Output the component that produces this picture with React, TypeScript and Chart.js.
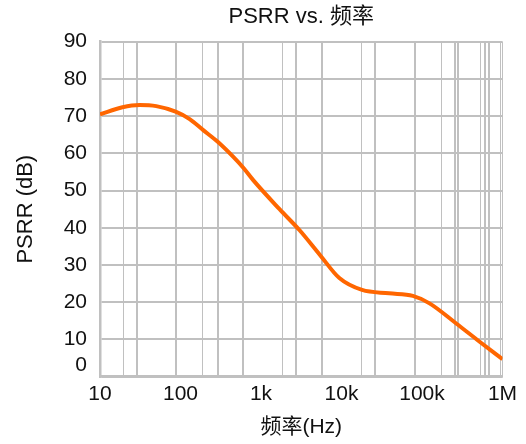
import React, { useEffect, useRef } from 'react';
import { Chart, registerables } from 'chart.js';

Chart.register(...registerables);

// Curve samples (frequency in Hz, PSRR in dB)
const freqHz = [10, 19, 31, 50, 87, 130, 190, 290, 450, 610, 800, 1700, 3000, 5400, 9400, 18000, 39000, 77000, 124000, 266000, 520000, 1000000];
const psrrDb = [70.5, 72.4, 73.0, 72.7, 71.2, 69.2, 66.3, 63.1, 59.1, 56.0, 52.8, 45.0, 39.4, 32.7, 26.5, 23.3, 22.4, 21.7, 19.7, 14.3, 9.4, 4.7];

// Axis ticks
const yTickValues = [0, 10, 20, 30, 40, 50, 60, 70, 80, 90];
const xLabelValues = [10, 100, 1000, 10000, 100000, 1000000];
const xLabelTexts = ['10', '100', '1k', '10k', '100k', '1M'];
// Vertical grid lines as drawn in the reference (Hz)
const xGridHeavy = [28.9, 86.9, 289, 592, 2702, 5689, 25960, 81600, 256600, 279600, 606000, 679600];
const xGridLight = [19.7, 188, 1862, 17890, 176800, 540000, 931000, 1000000];

const FONT = 'Arial, "Liberation Sans", "Noto Sans CJK SC", sans-serif';
const GRID = '#c0c0c0';
const TXT = '#111111';

const zeroLabelPlugin = {
  id: 'zeroLabel',
  afterDraw(chart: any) {
    const y = chart.scales.y;
    const ctx = chart.ctx;
    ctx.save();
    ctx.font = `21px ${FONT}`;
    ctx.fillStyle = TXT;
    ctx.textAlign = 'right';
    ctx.textBaseline = 'middle';
    ctx.fillText(String(yTickValues[0]), chart.chartArea.left - 13, y.getPixelForValue(yTickValues[0]) - 11.5);
    ctx.restore();
  },
};

export default function App() {
  const ref = useRef<HTMLCanvasElement | null>(null);

  useEffect(() => {
    if (!ref.current) return;
    const allX = Array.from(new Set([...xLabelValues, ...xGridHeavy, ...xGridLight])).sort((a, b) => a - b);
    const chart = new Chart(ref.current, {
      type: 'line',
      data: {
        datasets: [
          {
            label: 'PSRR',
            data: freqHz.map((f, i) => ({ x: f, y: psrrDb[i] })),
            borderColor: '#ff6600',
            borderWidth: 4,
            pointRadius: 0,
            cubicInterpolationMode: 'monotone',
            fill: false,
          },
        ],
      },
      options: {
        animation: false,
        responsive: true,
        maintainAspectRatio: false,
        layout: { padding: { left: 0, right: 23.5, top: 0, bottom: 0 } },
        plugins: {
          legend: { display: false },
          tooltip: { enabled: false },
          title: {
            display: true,
            text: 'PSRR vs. 频率',
            fullSize: false,
            color: TXT,
            font: { family: FONT, size: 22, weight: 'normal' },
            padding: { top: 3.8, bottom: 11.5 },
          },
        },
        scales: {
          x: {
            type: 'logarithmic',
            min: 10,
            max: 1000000,
            afterBuildTicks: (s: any) => {
              s.ticks = allX.map((v) => ({ value: v }));
            },
            afterFit: (s: any) => {
              s.height = 67.3;
            },
            ticks: {
              autoSkip: false,
              maxRotation: 0,
              minRotation: 0,
              padding: 5,
              color: TXT,
              font: { family: FONT, size: 21 },
              callback: (v: any) => {
                const i = xLabelValues.indexOf(Number(v));
                return i >= 0 ? xLabelTexts[i] : '';
              },
            },
            grid: {
              drawTicks: false,
              color: (c: any) => {
                const v = c.tick ? c.tick.value : null;
                if (v === null) return GRID;
                if (v === 1000000) return GRID;
                if (xLabelValues.includes(v)) return 'rgba(0,0,0,0)';
                return GRID;
              },
              lineWidth: (c: any) => {
                const v = c.tick ? c.tick.value : null;
                return xGridHeavy.includes(v) ? 2 : 1;
              },
            },
            border: { display: true, color: GRID, width: 2.5 },
            title: {
              display: true,
              text: '频率(Hz)',
              color: TXT,
              font: { family: FONT, size: 21 },
              padding: { top: 0, bottom: 4.4 },
            },
          },
          y: {
            type: 'linear',
            min: 0,
            max: 90,
            afterBuildTicks: (s: any) => {
              s.ticks = yTickValues.map((v) => ({ value: v }));
            },
            afterFit: (s: any) => {
              s.width = 100;
            },
            ticks: {
              padding: 13,
              color: (c: any) => (c.tick && c.tick.value === yTickValues[0] ? 'rgba(0,0,0,0)' : TXT),
              font: { family: FONT, size: 21 },
            },
            grid: { drawTicks: false, color: GRID, lineWidth: 2 },
            border: { display: true, color: GRID, width: 2.5 },
            title: {
              display: true,
              text: 'PSRR (dB)',
              color: TXT,
              font: { family: FONT, size: 22 },
              padding: { top: 12.8, bottom: 0 },
            },
          },
        },
      } as any,
      plugins: [zeroLabelPlugin],
    });
    return () => chart.destroy();
  }, []);

  return (
    <div style={{ position: 'fixed', left: 0, top: 0, width: 526, height: 444, background: '#ffffff' }}>
      <canvas ref={ref} />
    </div>
  );
}
